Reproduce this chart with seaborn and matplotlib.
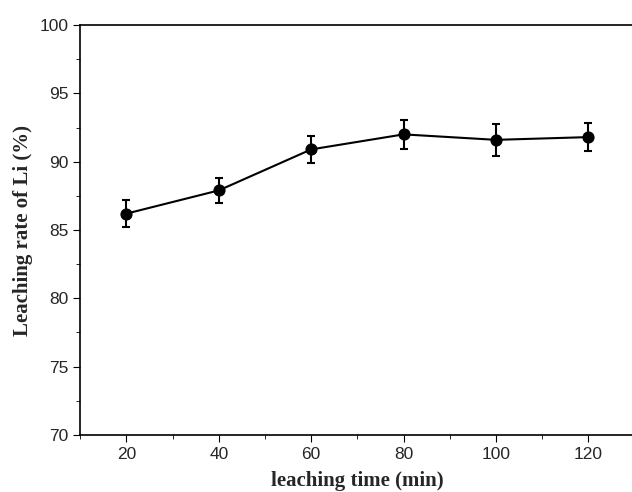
import matplotlib
matplotlib.use("Agg")
import matplotlib.pyplot as plt
import seaborn as sns
import pandas as pd
from matplotlib.ticker import MultipleLocator

# data
times = [20, 40, 60, 80, 100, 120]
rates = [86.2, 87.9, 90.9, 92.0, 91.6, 91.8]
errs = [1.0, 0.9, 1.0, 1.05, 1.15, 1.0]

df = pd.DataFrame({"time": times, "rate": rates})

sns.set_style("ticks")
plt.rcParams['font.family'] = ['Liberation Sans', 'DejaVu Sans']

fig = plt.figure(figsize=(6.32, 4.92), dpi=100)
ax = fig.add_axes([0.127, 0.116, 0.877, 0.833])
ax.errorbar(times, rates, yerr=errs, fmt="none", ecolor="black", elinewidth=1.5, capsize=3, capthick=1.5)
sns.lineplot(data=df, x="time", y="rate", ax=ax, color="black", linewidth=1.5,
             marker="o", markersize=8, markeredgecolor="black")

ax.set_xlim(10, 130)
ax.set_ylim(70, 100)
ax.xaxis.set_major_locator(MultipleLocator(20))
ax.xaxis.set_minor_locator(MultipleLocator(10))
ax.yaxis.set_major_locator(MultipleLocator(5))
ax.yaxis.set_minor_locator(MultipleLocator(2.5))
ax.tick_params(which="both", direction="out", color="black")
ax.tick_params(which="major", length=5, labelsize=12.5)
ax.tick_params(which="minor", length=3)
for s in ax.spines.values():
    s.set_linewidth(1.2)
    s.set_color("black")
ax.set_xlabel("leaching time (min)", fontsize=15, fontweight="bold",
              family=['Liberation Serif'], labelpad=7)
ax.set_ylabel("Leaching rate of Li (%)", fontsize=15, fontweight="bold",
              family=['Liberation Serif'], labelpad=5)
fig.savefig("out.png", dpi=100)
